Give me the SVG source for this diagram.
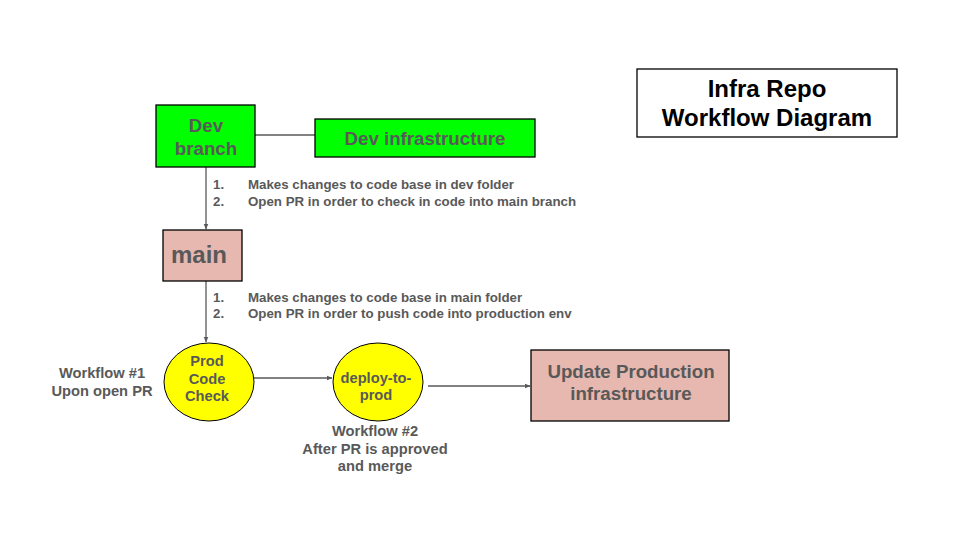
<svg xmlns="http://www.w3.org/2000/svg" width="960" height="540" viewBox="0 0 960 540">
<style>
text{font-family:"Liberation Sans",Arial,sans-serif;font-weight:bold;fill:#595959}
.c{text-anchor:middle}
.box{stroke:#000;stroke-width:1.3}
.green{fill:#00ff00}
.pink{fill:#e6b8af}
.yellow{fill:#ffff00;stroke:#000;stroke-width:1}
.conn{stroke:#595959;stroke-width:1.3;fill:none}
.lst{font-size:13.3px}
.n{font-size:14.7px}
.b{font-size:18.7px}
</style>
<defs>
<marker id="ah" viewBox="0 0 10 10" refX="9" refY="5" markerWidth="6" markerHeight="6" markerUnits="userSpaceOnUse" orient="auto"><path d="M0,1 L10,5 L0,9 z" fill="#595959"/></marker>
</defs>
<rect width="960" height="540" fill="#fff"/>
<g id="connectors">
<line class="conn" x1="255" y1="135" x2="315" y2="135"/>
<line class="conn" x1="206" y1="167" x2="206" y2="229" marker-end="url(#ah)"/>
<line class="conn" x1="206" y1="281" x2="206" y2="342" marker-end="url(#ah)"/>
<line class="conn" x1="254" y1="378" x2="332" y2="378" marker-end="url(#ah)"/>
<line class="conn" x1="428" y1="386" x2="530" y2="386" marker-end="url(#ah)"/>
</g>
<g id="title">
<rect x="637" y="69" width="260" height="68" fill="#fff" class="box"/>
<text class="c" x="767" y="97" font-size="24" style="fill:#000">Infra Repo</text>
<text class="c" x="767" y="126" font-size="24" style="fill:#000">Workflow Diagram</text>
</g>
<g id="dev-branch">
<rect x="156" y="105" width="99" height="62" class="box green"/>
<text class="c b" x="206" y="132">Dev</text>
<text class="c b" x="206" y="155">branch</text>
</g>
<g id="dev-infra">
<rect x="315" y="119" width="220" height="38" class="box green"/>
<text class="c b" x="425" y="145">Dev infrastructure</text>
</g>
<g id="list1">
<text class="lst" x="213" y="189">1.</text>
<text class="lst" x="248" y="189">Makes changes to code base in dev folder</text>
<text class="lst" x="213" y="206">2.</text>
<text class="lst" x="248" y="206">Open PR in order to check in code into main branch</text>
</g>
<g id="main">
<rect x="163" y="230" width="79" height="51" class="box pink"/>
<text class="c" x="199" y="263" font-size="24">main</text>
</g>
<g id="list2">
<text class="lst" x="213" y="302">1.</text>
<text class="lst" x="248" y="302">Makes changes to code base in main folder</text>
<text class="lst" x="213" y="318">2.</text>
<text class="lst" x="248" y="318">Open PR in order to push code into production env</text>
</g>
<g id="prod-code-check">
<ellipse cx="209" cy="382" rx="45" ry="39" class="yellow"/>
<text class="c n" x="207" y="366">Prod</text>
<text class="c n" x="207" y="384">Code</text>
<text class="c n" x="207" y="401">Check</text>
</g>
<g id="workflow1">
<text class="c n" x="102" y="378">Workflow #1</text>
<text class="c n" x="102" y="396">Upon open PR</text>
</g>
<g id="deploy-to-prod">
<ellipse cx="378" cy="382" rx="45" ry="39" class="yellow"/>
<text class="c n" x="376" y="383">deploy-to-</text>
<text class="c n" x="376" y="400">prod</text>
</g>
<g id="workflow2">
<text class="c n" x="375" y="436">Workflow #2</text>
<text class="c n" x="375" y="454">After PR is approved</text>
<text class="c n" x="375" y="471">and merge</text>
</g>
<g id="update-prod">
<rect x="531" y="350" width="198" height="71" class="box pink"/>
<text class="c b" x="631" y="378">Update Production</text>
<text class="c b" x="631" y="400">infrastructure</text>
</g>
</svg>
